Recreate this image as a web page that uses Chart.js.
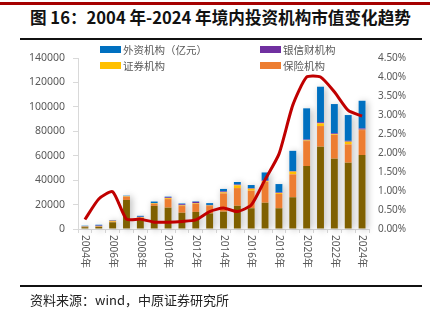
<!DOCTYPE html>
<html>
<head>
<meta charset="utf-8">
<script src="https://cdn.jsdelivr.net/npm/chart.js@4"></script>
<style>
body{margin:0;width:430px;height:322px;background:#fff;position:relative;overflow:hidden;font-family:"Noto Sans CJK SC","Noto Sans",sans-serif;}
#c{position:absolute;left:0;top:0;}
.topbar{position:absolute;left:0;top:2px;width:430px;height:3px;background:#a50000;}
.title{position:absolute;left:30px;top:5px;font-size:16.6px;font-weight:bold;color:#111;white-space:nowrap;}
.rule{position:absolute;left:20px;width:402px;height:2px;background:#111;}
.note{position:absolute;left:30px;top:290px;font-size:13px;color:#222;white-space:nowrap;}
.lg{position:absolute;font-size:10.5px;color:#595959;white-space:nowrap;line-height:12px;}
.lg span{display:inline-block;width:21px;height:7px;margin-right:2px;vertical-align:1px;}
</style>
</head>
<body>
<div class="topbar"></div>
<div class="title">图 16：2004 年-2024 年境内投资机构市值变化趋势</div>
<div class="rule" style="top:38px"></div>
<canvas id="c" width="430" height="322"></canvas>
<div class="lg" style="left:100px;top:44px"><span style="background:#0070c0"></span>外资机构（亿元）</div>
<div class="lg" style="left:260px;top:44px"><span style="background:#7030a0"></span>银信财机构</div>
<div class="lg" style="left:100px;top:60px"><span style="background:#ffc000"></span>证券机构</div>
<div class="lg" style="left:260px;top:60px"><span style="background:#ed7d31"></span>保险机构</div>
<div class="rule" style="top:285px"></div>
<div class="note">资料来源：wind，中原证券研究所</div>
<script>
var years = ['2004年','2005年','2006年','2007年','2008年','2009年','2010年','2011年','2012年','2013年','2014年',
	'2015年','2016年','2017年','2018年','2019年','2020年','2021年','2022年','2023年','2024年'];

// 亿元
var fund = [1500,1800,5500,23800,9000,19000,17500,13300,14000,12800,14200,19000,17000,21500,17000,26000,51600,67400,57600,54300,60600];
var insurance = [300,300,500,2500,500,1500,7000,5500,6500,6000,15000,14500,14400,17200,11700,18800,20400,16900,19400,15000,20400];
var securities = [200,200,700,400,300,500,700,500,500,400,800,2300,1600,600,800,2200,500,2200,600,2200,300];
var bankTrust = [200,500,300,300,200,300,800,1000,1200,500,800,600,500,500,500,500,700,1000,800,700,1000];
var foreign = [500,700,300,300,800,1200,500,600,400,1500,2000,2100,2500,6500,6800,16500,25600,29000,23900,21100,22700];

// 占比 %
var share = [0.25,0.79,0.98,0.26,0.26,0.18,0.18,0.2,0.24,0.46,0.55,0.46,0.63,1.3,1.97,3.26,4.0,4.0,3.61,3.12,2.97];

var leftTicks = [0,20000,40000,60000,80000,100000,120000,140000];
var rightTicks = [0,0.5,1,1.5,2,2.5,3,3.5,4,4.5];

var tickFont = {family: '"Noto Sans","Noto Sans CJK SC",sans-serif', size: 10.5};

// soft shadow behind each stacked column
var shadowPlugin = {
	id: 'barShadow',
	beforeDatasetsDraw: function(chart){
		var c = chart.ctx;
		var metas = [];
		for(var d = 0; d < 5; d++) metas.push(chart.getDatasetMeta(d));
		c.save();
		c.shadowColor = 'rgba(0,0,0,0.28)';
		c.shadowBlur = 7;
		c.shadowOffsetX = 2;
		c.shadowOffsetY = 1;
		c.fillStyle = '#ffffff';
		for(var i = 0; i < years.length; i++){
			var el = metas[0].data[i];
			var top = el.y;
			for(var k = 1; k < metas.length; k++) top = Math.min(top, metas[k].data[i].y);
			c.fillRect(el.x - el.width/2, top, el.width, el.base - top);
		}
		c.restore();
	}
};

// vertical year labels, reading top to bottom
var yearLabels = {
	id: 'yearLabels',
	afterDraw: function(chart){
		var c = chart.ctx;
		var xs = chart.scales.x;
		c.save();
		c.fillStyle = '#595959';
		c.font = '10px "Noto Sans","Noto Sans CJK SC",sans-serif';
		c.textAlign = 'left';
		c.textBaseline = 'middle';
		for(var i = 0; i < years.length; i += 2){
			c.save();
			c.translate(xs.getPixelForValue(i), chart.chartArea.bottom + 6);
			c.rotate(Math.PI/2);
			c.fillText(years[i], 0, 0);
			c.restore();
		}
		c.restore();
	}
};

var ctx = document.getElementById('c');

var chart = new Chart(ctx, {
	type: 'bar',
	data: {
		labels: years,
		datasets: [
			{label: '基金', data: fund, backgroundColor: '#7f6000', order: 1},
			{label: '保险机构', data: insurance, backgroundColor: '#ed7d31', order: 1},
			{label: '证券机构', data: securities, backgroundColor: '#ffc000', order: 1},
			{label: '银信财机构', data: bankTrust, backgroundColor: '#7030a0', order: 1},
			{label: '外资机构（亿元）', data: foreign, backgroundColor: '#0070c0', order: 1},
			{type: 'line', label: '占比', data: share, yAxisID: 'y1', borderColor: '#c00000',
				borderWidth: 3, pointRadius: 0, tension: 0.2, order: 0}
		]
	},
	options: {
		responsive: false,
		animation: false,
		layout: {padding: {top: 58, left: 0, right: 0, bottom: 0}},
		datasets: {bar: {barPercentage: 0.5, categoryPercentage: 1}},
		plugins: {legend: {display: false}, tooltip: {enabled: false}},
		scales: {
			x: {
				stacked: true,
				grid: {display: true, drawOnChartArea: false, offset: true, tickLength: 4, color: '#d9d9d9'},
				border: {color: '#d9d9d9'},
				ticks: {display: false},
				afterFit: function(s){ s.height = 93; }
			},
			y: {
				stacked: true,
				min: 0, max: 140000,
				afterBuildTicks: function(s){ s.ticks = leftTicks.map(function(v){ return {value: v}; }); },
				grid: {display: true, drawOnChartArea: false, tickLength: 5, color: '#d9d9d9'},
				border: {color: '#d9d9d9'},
				ticks: {color: '#595959', font: tickFont, padding: 8, callback: function(v){ return String(v); }},
				afterFit: function(s){ s.width = 78; }
			},
			y1: {
				position: 'right',
				min: 0, max: 4.5,
				afterBuildTicks: function(s){ s.ticks = rightTicks.map(function(v){ return {value: v}; }); },
				grid: {display: false, drawTicks: false},
				border: {display: false},
				ticks: {color: '#595959', font: {family: tickFont.family, size: 10}, padding: 9,
					callback: function(v){ return v.toFixed(2) + '%'; }},
				afterFit: function(s){ s.width = 61; }
			}
		}
	},
	plugins: [shadowPlugin, yearLabels]
});
</script>
</body>
</html>
